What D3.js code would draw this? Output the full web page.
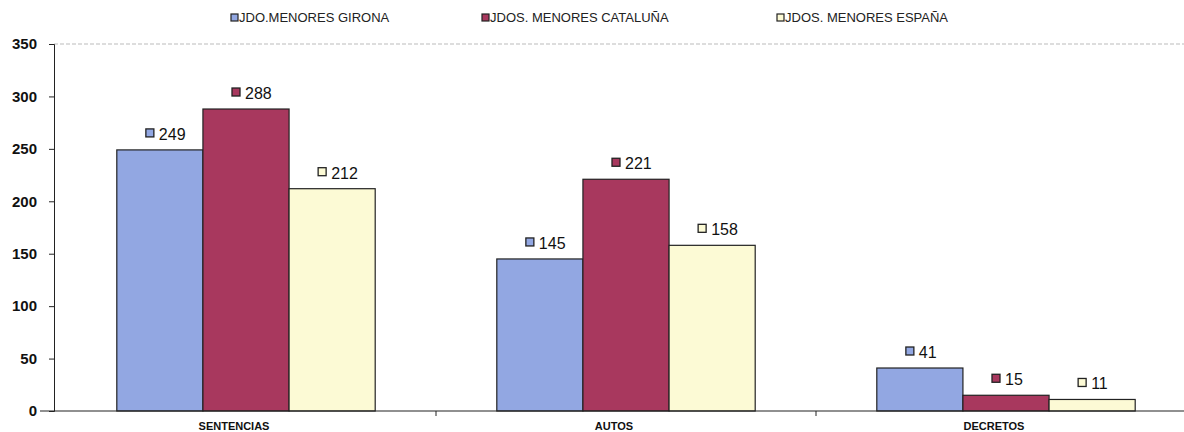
<!DOCTYPE html>
<html>
<head>
<meta charset="utf-8">
<script src="https://cdn.jsdelivr.net/npm/d3@7"></script>
<style>
  body { margin: 0; background: #fff; }
  text { font-family: Arial, "Liberation Sans", sans-serif; }
</style>
</head>
<body>
<div id="chart"></div>
<script>
(function(){
    const categories = ['SENTENCIAS', 'AUTOS', 'DECRETOS'];
    const seriesNames = ['JDO.MENORES GIRONA', 'JDOS. MENORES CATALUÑA', 'JDOS. MENORES ESPAÑA'];
    const girona = [249, 145, 41];
    const cataluna = [288, 221, 15];
    const espana = [212, 158, 11];
    const yTicks = [0, 50, 100, 150, 200, 250, 300, 350];
    const colors = ['#92a7e2', '#a8385e', '#fcfad5'];

    const series = [girona, cataluna, espana];

    const margin = { top: 44, left: 54, bottom: 21, right: 0 };
    const fullWidth = 1184, fullHeight = 432;
    const width = fullWidth - margin.left - margin.right;
    const height = fullHeight - margin.top - margin.bottom;

    const svg = d3.select('#chart')
        .append('svg')
            .attr('width', fullWidth)
            .attr('height', fullHeight)
        .append('g')
            .attr('transform', `translate(${margin.left}, ${margin.top})`);

    const yScale = d3.scaleLinear()
        .domain([0, 350])
        .range([height, 0]);

    const x0 = d3.scaleBand()
        .domain(categories)
        .range([2, width + 12])
        .paddingInner(0.32)
        .paddingOuter(0.16);

    const x1 = d3.scaleBand()
        .domain(d3.range(series.length))
        .range([0, x0.bandwidth()]);

    // top border, dashed
    svg.append('line')
        .attr('x1', 0).attr('x2', width)
        .attr('y1', 0).attr('y2', 0)
        .style('stroke', '#bbb')
        .style('stroke-dasharray', '4,2');

    // bars
    const groups = svg.selectAll('.cat')
        .data(categories)
        .enter().append('g')
            .attr('transform', d => `translate(${x0(d)}, 0)`);

    groups.selectAll('rect')
        .data((c, ci) => series.map((s, si) => ({ si, v: s[ci] })))
        .enter().append('rect')
            .attr('x', d => x1(d.si))
            .attr('y', d => yScale(d.v))
            .attr('width', x1.bandwidth())
            .attr('height', d => height - yScale(d.v))
            .style('fill', d => colors[d.si])
            .style('stroke', '#222')
            .style('stroke-width', 1.2);

    // value labels with little colour keys
    const labels = groups.selectAll('.lab')
        .data((c, ci) => series.map((s, si) => ({ si, v: s[ci] })))
        .enter().append('g')
            .attr('transform', d => `translate(${x1(d.si) + x1.bandwidth() / 2 + 8}, ${yScale(d.v) - 10})`);

    labels.append('rect')
        .attr('x', -22).attr('y', -11)
        .attr('width', 8).attr('height', 8)
        .style('fill', d => colors[d.si])
        .style('stroke', '#222')
        .style('stroke-width', 1.3);

    labels.append('text')
        .attr('x', -9)
        .attr('y', 0)
        .style('font-size', '16px')
        .style('fill', '#111')
        .text(d => d.v);

    // y axis
    const yAxis = d3.axisLeft(yScale).tickValues(yTicks).tickSize(5).tickPadding(12);
    const yg = svg.append('g').call(yAxis);
    yg.selectAll('text')
        .style('font-size', '15px')
        .style('font-weight', 'bold')
        .style('fill', '#111');
    yg.selectAll('line, path').style('stroke', '#222');

    // x axis
    svg.append('line')
        .attr('x1', -14).attr('x2', width)
        .attr('y1', height).attr('y2', height)
        .style('stroke', '#222')
        .style('stroke-width', 1.2);

    const step = x0.step();
    svg.selectAll('.sep')
        .data(categories.slice(1))
        .enter().append('line')
            .attr('x1', d => x0(d) - step * 0.16)
            .attr('x2', d => x0(d) - step * 0.16)
            .attr('y1', height).attr('y2', height + 5)
            .style('stroke', '#222');

    svg.selectAll('.catlab')
        .data(categories)
        .enter().append('text')
            .attr('x', d => x0(d) + x0.bandwidth() / 2 - 12)
            .attr('y', height + 19)
            .attr('text-anchor', 'middle')
            .style('font-size', '11px')
            .style('font-weight', 'bold')
            .style('fill', '#111')
            .text(d => d);

    // legend
    const legendX = [231, 482, 777];
    const legend = d3.select('svg').append('g')
        .selectAll('g')
        .data(seriesNames)
        .enter().append('g')
            .attr('transform', (d, i) => `translate(${legendX[i]}, 18)`);

    legend.append('rect')
        .attr('x', 0).attr('y', -4)
        .attr('width', 7).attr('height', 7)
        .style('fill', (d, i) => colors[i])
        .style('stroke', '#222')
        .style('stroke-width', 1.2);

    legend.append('text')
        .attr('x', 8)
        .attr('y', 4)
        .style('font-size', '13px')
        .style('fill', '#222')
        .text(d => d);
}());
</script>
</body>
</html>
